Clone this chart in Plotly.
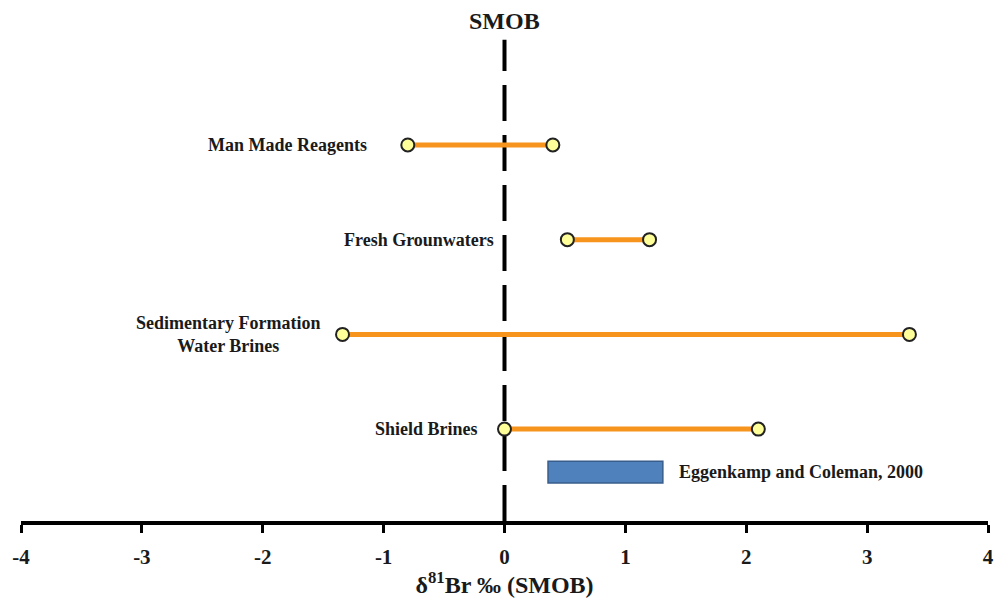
import plotly.graph_objects as go

categories = ["Man Made Reagents", "Fresh Grounwaters", "Sedimentary Formation<br>Water Brines", "Shield Brines"]
row_pos = [4, 3, 2, 1]
range_min = [-0.80, 0.52, -1.34, 0.00]
range_max = [0.40, 1.20, 3.35, 2.10]
ref_label = "Eggenkamp and Coleman, 2000"
ref_range = [0.36, 1.31]
tick_vals = [-4, -3, -2, -1, 0, 1, 2, 3, 4]

FONT = '"Liberation Serif", "Times New Roman", serif'
TXT = "#1a1a1a"

fig = go.Figure()

# dashed SMOB reference line
fig.add_shape(type="line", x0=0, x1=0, y0=0.03, y1=5.11, xref="x", yref="y",
              line=dict(color="black", width=4, dash="36px,14px"), layer="below")

for cat, y, a, b in zip(categories, row_pos, range_min, range_max):
    fig.add_trace(go.Scatter(
        x=[a, b], y=[y, y], mode="lines+markers",
        line=dict(color="#F7941D", width=5),
        marker=dict(size=13, color="#FFFF99", line=dict(color="#222222", width=2)),
        showlegend=False, hoverinfo="skip"))

label_x = [-1.12, -0.07, -2.29, -0.20]
label_anchor = ["right", "right", "center", "right"]
for cat, y, lx, anc in zip(categories, row_pos, label_x, label_anchor):
    fig.add_annotation(x=lx, y=y, text="<b>" + cat + "</b>", showarrow=False,
                       xanchor=anc, yanchor="middle", align="center",
                       font=dict(family=FONT, size=18, color=TXT))

# reference bar
fig.add_shape(type="rect", x0=ref_range[0], x1=ref_range[1], y0=0.43, y1=0.66,
              xref="x", yref="y", fillcolor="#4F81BD",
              line=dict(color="#385D8A", width=1.5))
fig.add_annotation(x=ref_range[1], y=0.55, xshift=14, text="<b>" + ref_label + "</b>",
                   showarrow=False, xanchor="left", yanchor="middle",
                   font=dict(family=FONT, size=18, color=TXT))

fig.add_annotation(x=0, y=1, xref="x", yref="paper", yshift=-6,
                   text="<b>SMOB</b>", showarrow=False, xanchor="center", yanchor="top",
                   font=dict(family=FONT, size=24, color=TXT))

fig.update_layout(
    width=995, height=598,
    margin=dict(l=21, r=7, t=0, b=77),
    paper_bgcolor="white", plot_bgcolor="white",
    font=dict(family=FONT, color=TXT),
    xaxis=dict(range=[-4, 4], tickvals=tick_vals,
               ticktext=["<b>%d</b>" % v for v in tick_vals],
               showgrid=False, zeroline=False,
               showline=True, linecolor="black", linewidth=4,
               ticks="outside", ticklen=8, tickwidth=3, tickcolor="black",
               ticklabelstandoff=6,
               tickfont=dict(family=FONT, size=21, color=TXT),
               title=dict(text="<b>δ<sup>81</sup>Br ‰ (SMOB)</b>",
                          font=dict(family=FONT, size=24, color=TXT), standoff=4)),
    yaxis=dict(range=[0.03, 5.53], visible=False, showgrid=False, zeroline=False),
)

fig.write_html("out.html")
